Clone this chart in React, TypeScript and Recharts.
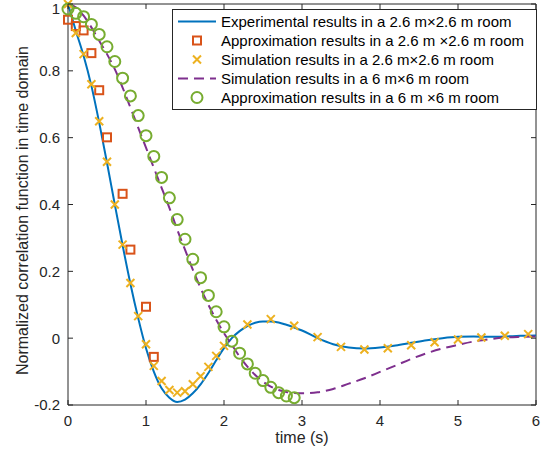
import { ComposedChart, Line, Scatter, XAxis, YAxis, Legend, ReferenceLine } from 'recharts';

document.body.style.margin = '0';

const FONT = '"Liberation Sans", Arial, Helvetica, sans-serif';
const AXIS = '#262626';
const WIDTH = 547;
const HEIGHT = 454;
const MARGIN = { top: 4, right: 11, bottom: 0, left: 0 };
const PLOT_TOP = MARGIN.top;
const PLOT_RIGHT = WIDTH - MARGIN.right;

const xTicks = [0, 1, 2, 3, 4, 5, 6];
const yTicks = [-0.2, 0, 0.2, 0.4, 0.6, 0.8, 1];

// experimental, 2.6 m room (solid blue)
const expTime = [0, 0.1, 0.2, 0.3, 0.4, 0.5, 0.6, 0.7, 0.8, 0.9, 1.0, 1.1, 1.2, 1.3, 1.4, 1.5, 1.6, 1.7, 1.8, 1.9, 2.0,
  2.1, 2.2, 2.3, 2.4, 2.5, 2.6, 2.7, 2.8, 2.9, 3.0, 3.2, 3.4, 3.6, 3.8, 4.0, 4.2, 4.4, 4.6, 4.8, 5.0, 5.2, 5.4, 5.6, 5.8, 6.0];
const expCorr = [1.0, 0.92, 0.845, 0.755, 0.645, 0.525, 0.4, 0.278, 0.163, 0.06, -0.03, -0.1, -0.15, -0.178, -0.191, -0.184, -0.165, -0.138, -0.104, -0.066, -0.03,
  0.0, 0.021, 0.036, 0.046, 0.05, 0.05, 0.047, 0.04, 0.032, 0.023, 0.0, -0.018, -0.028, -0.031, -0.028, -0.022, -0.014, -0.006, 0.0, 0.004, 0.005, 0.004, 0.005, 0.007, 0.008];

// approximation, 2.6 m room (squares)
const apxSmallTime = [0, 0.1, 0.2, 0.3, 0.4, 0.5, 0.7, 0.8, 1.0, 1.1];
const apxSmallCorr = [0.953, 0.934, 0.921, 0.853, 0.742, 0.601, 0.432, 0.265, 0.094, -0.056];

// simulation, 2.6 m room (crosses)
const simSmallTime = [0, 0.1, 0.2, 0.3, 0.4, 0.5, 0.6, 0.7, 0.8, 0.9, 1.0, 1.1, 1.2, 1.3, 1.4, 1.5, 1.6, 1.7, 1.8, 1.9, 2.0,
  2.3, 2.6, 2.9, 3.2, 3.5, 3.8, 4.1, 4.4, 4.7, 5.0, 5.3, 5.6, 5.9];
const simSmallCorr = [1.0, 0.913, 0.85, 0.76, 0.649, 0.528, 0.4, 0.28, 0.165, 0.066, -0.018, -0.083, -0.128, -0.155, -0.163, -0.159, -0.138, -0.114, -0.086, -0.053, -0.023,
  0.041, 0.057, 0.037, 0.003, -0.026, -0.034, -0.03, -0.021, -0.012, -0.004, 0.002, 0.007, 0.012];

// simulation, 6 m room (dashed purple)
const simLargeTime = [0, 0.1, 0.2, 0.3, 0.4, 0.5, 0.6, 0.7, 0.8, 0.9, 1.0, 1.1, 1.2, 1.3, 1.4, 1.5, 1.6, 1.7, 1.8, 1.9, 2.0,
  2.1, 2.2, 2.3, 2.4, 2.5, 2.6, 2.7, 2.8, 2.9, 3.0, 3.2, 3.4, 3.6, 3.8, 4.0, 4.2, 4.4, 4.6, 4.8, 5.0, 5.2, 5.4, 5.6, 5.8, 6.0];
const simLargeCorr = [1.0, 0.99, 0.965, 0.93, 0.89, 0.85, 0.805, 0.75, 0.69, 0.63, 0.57, 0.51, 0.45, 0.39, 0.325, 0.265, 0.205, 0.15, 0.1, 0.055, 0.015,
  -0.02, -0.055, -0.085, -0.11, -0.13, -0.145, -0.155, -0.161, -0.164, -0.165, -0.162, -0.152, -0.136, -0.12, -0.101, -0.082, -0.062, -0.045, -0.031, -0.02, -0.01, -0.003, 0.002, 0.004, 0.005];

// approximation, 6 m room (circles)
const apxLargeTime = [0, 0.1, 0.2, 0.3, 0.4, 0.5, 0.6, 0.7, 0.8, 0.9, 1.0, 1.1, 1.2, 1.3, 1.4, 1.5, 1.6, 1.7, 1.8, 1.9, 2.0,
  2.1, 2.2, 2.3, 2.4, 2.5, 2.6, 2.7, 2.8, 2.9];
const apxLargeCorr = [0.985, 0.972, 0.962, 0.939, 0.909, 0.872, 0.828, 0.778, 0.725, 0.666, 0.606, 0.544, 0.481, 0.42, 0.355, 0.296, 0.236, 0.181, 0.128, 0.079, 0.034,
  -0.009, -0.045, -0.077, -0.105, -0.127, -0.147, -0.163, -0.173, -0.178];

const zip = (xs: number[], ys: number[]) => xs.map((x, i) => ({ x, y: ys[i] }));

const legendLabels = [
  'Experimental results in a 2.6 m\u00d72.6 m room',
  'Approximation results in a 2.6 m \u00d72.6 m room',
  'Simulation results in a 2.6 m\u00d72.6 m room',
  'Simulation results in a 6 m\u00d76 m room',
  'Approximation results in a 6 m \u00d76 m room',
];

const COLORS = {
  exp: '#0072BD',
  apxSmall: '#D95319',
  simSmall: '#EDB120',
  simLarge: '#7E2F8E',
  apxLarge: '#77AC30',
};

const SquareMark = ({ cx, cy }: any) => (
  <rect x={cx - 4} y={cy - 4} width={8} height={8} fill="none" stroke={COLORS.apxSmall} strokeWidth={2} />
);
const CrossMark = ({ cx, cy }: any) => (
  <path d={`M${cx - 4},${cy - 4}L${cx + 4},${cy + 4}M${cx - 4},${cy + 4}L${cx + 4},${cy - 4}`} stroke={COLORS.simSmall} strokeWidth={2} />
);
const CircleMark = ({ cx, cy }: any) => (
  <circle cx={cx} cy={cy} r={5.5} fill="none" stroke={COLORS.apxLarge} strokeWidth={2} />
);

// ticks point inward on all four sides (box on)
const BottomTick = ({ x, y, payload }: any) => (
  <g>
    <line x1={x} x2={x} y1={y} y2={y - 5} stroke={AXIS} />
    <line x1={x} x2={x} y1={PLOT_TOP} y2={PLOT_TOP + 5} stroke={AXIS} />
    <text x={x} y={y + 21} textAnchor="middle" fontSize={15} fill={AXIS} fontFamily={FONT}>{payload.value}</text>
  </g>
);
const LeftTick = ({ x, y, payload }: any) => (
  <g>
    <line x1={x} x2={x + 5} y1={y} y2={y} stroke={AXIS} />
    <line x1={PLOT_RIGHT} x2={PLOT_RIGHT - 5} y1={y} y2={y} stroke={AXIS} />
    <text x={x - 8} y={Math.max(y + 5.4, 14)} textAnchor="end" fontSize={15} fill={AXIS} fontFamily={FONT}>{payload.value}</text>
  </g>
);

const LegendBox = () => (
  <div style={{ border: `1px solid ${AXIS}`, background: '#fff', padding: '2px 0', width: 365, boxSizing: 'border-box', fontFamily: FONT, fontSize: 15, color: '#000' }}>
    {legendLabels.map((label, i) => (
      <div key={label} style={{ display: 'flex', alignItems: 'center', height: 19, whiteSpace: 'nowrap' }}>
        <svg width={48} height={19} style={{ flex: 'none' }}>
          {i === 0 && <line x1={5} x2={43} y1={9.5} y2={9.5} stroke={COLORS.exp} strokeWidth={2} />}
          {i === 1 && <SquareMark cx={24} cy={9.5} />}
          {i === 2 && <CrossMark cx={24} cy={9.5} />}
          {i === 3 && <line x1={5} x2={43} y1={9.5} y2={9.5} stroke={COLORS.simLarge} strokeWidth={2} strokeDasharray="10 6" />}
          {i === 4 && <CircleMark cx={24} cy={9.5} />}
        </svg>
        <span>{label}</span>
      </div>
    ))}
  </div>
);

export default function App() {
  return (
    <ComposedChart width={WIDTH} height={HEIGHT} margin={MARGIN}>
      <XAxis
        dataKey="x"
        type="number"
        domain={[0, 6]}
        ticks={xTicks}
        interval={0}
        height={49}
        tickSize={0}
        tickMargin={0}
        tickLine={false}
        axisLine={{ stroke: AXIS }}
        tick={BottomTick}
        label={{
          content: ({ viewBox }: any) => (
            <text x={viewBox.x + viewBox.width / 2} y={443} textAnchor="middle" fontSize={16} fill={AXIS} fontFamily={FONT}>time (s)</text>
          ),
        }}
      />
      <YAxis
        dataKey="y"
        type="number"
        domain={[-0.2, 1]}
        ticks={yTicks}
        interval={0}
        width={68}
        tickSize={0}
        tickMargin={0}
        tickLine={false}
        axisLine={{ stroke: AXIS }}
        tick={LeftTick}
        label={{
          content: ({ viewBox }: any) => {
            const cy = viewBox.y + viewBox.height / 2 + 6;
            return (
              <text x={27.5} y={cy} transform={`rotate(-90 27.5 ${cy})`} textAnchor="middle" fontSize={16} fill={AXIS} fontFamily={FONT}>
                Normalized correlation function in time domain
              </text>
            );
          },
        }}
      />
      <ReferenceLine y={1} stroke={AXIS} ifOverflow="visible" />
      <ReferenceLine x={6} stroke={AXIS} ifOverflow="visible" />

      <Line data={zip(expTime, expCorr)} dataKey="y" type="monotone" stroke={COLORS.exp} strokeWidth={2} dot={false} activeDot={false} isAnimationActive={false} />
      <Line data={zip(simLargeTime, simLargeCorr)} dataKey="y" type="monotone" stroke={COLORS.simLarge} strokeWidth={2} strokeDasharray="10 6" dot={false} activeDot={false} isAnimationActive={false} />
      <Scatter data={zip(apxSmallTime, apxSmallCorr)} dataKey="y" shape={SquareMark} isAnimationActive={false} />
      <Scatter data={zip(simSmallTime, simSmallCorr)} dataKey="y" shape={CrossMark} isAnimationActive={false} />
      <Scatter data={zip(apxLargeTime, apxLargeCorr)} dataKey="y" shape={CircleMark} isAnimationActive={false} />

      <Legend
        layout="vertical"
        align="center"
        verticalAlign="middle"
        wrapperStyle={{ left: 172, top: 9, width: 365 }}
        content={() => <LegendBox />}
      />
    </ComposedChart>
  );
}
